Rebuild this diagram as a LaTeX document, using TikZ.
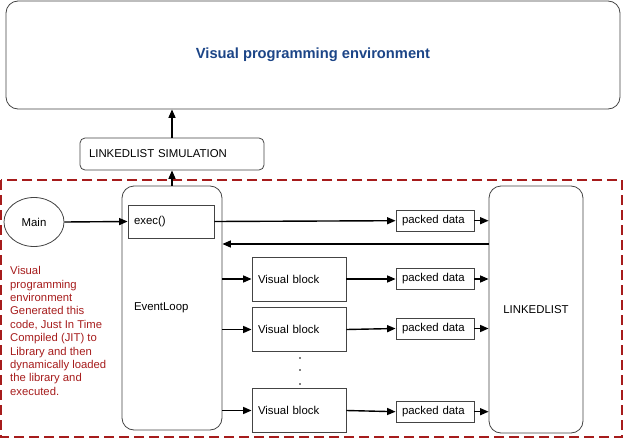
\documentclass[tikz,border=0pt]{standalone}
\usepackage{fontspec}
\setmainfont{Liberation Sans}
\usepackage{xcolor}
\usetikzlibrary{positioning,arrows.meta,shapes.geometric}
\definecolor{titleblue}{HTML}{1C4587}
\definecolor{darkred}{HTML}{A61C1C}
\definecolor{boxgray}{HTML}{444444}

\begin{document}
\begin{tikzpicture}[x=1pt, y=-1pt, >={Triangle[length=8.5pt,width=7pt]},
    box/.style={draw=boxgray, line width=0.8pt, align=left, font=\fontsize{11.4}{13}\selectfont},
    rbox/.style={box, rounded corners=12pt},
    dbox/.style={box, minimum width=78pt, minimum height=21pt, text width=66pt},
    vblock/.style={box, minimum width=94pt, minimum height=44pt, text width=82pt},
    arr/.style={->, line width=1.4pt}]
    \useasboundingbox (0,0) rectangle (624,439);

    % Top level environment
    \node[rbox, minimum width=614pt, minimum height=108pt, align=center,
          font=\fontsize{14.7}{17}\selectfont\bfseries, text=titleblue] (vpe) at (313,55) {Visual programming environment};
    \node[box, rounded corners=5pt, minimum width=184pt, minimum height=32pt, text width=166pt] (sim) at (172,154) {LINKEDLIST SIMULATION};

    % Dashed boundary
    \draw[darkred, line width=1.5pt, dash pattern=on 10pt off 5pt] (1,180) rectangle (622,437);

    % Main, event loop and linked list
    \node[box, ellipse, minimum width=60pt, minimum height=49pt, align=center] (main) at (34,222) {Main};
    \node[rbox, minimum width=100pt, minimum height=244pt, text width=76pt] (loop) at (172,308) {EventLoop};
    \node[box, minimum width=86pt, minimum height=33pt, text width=74pt, fill=white] (exec) at (171,221.5) {exec()};
    \node[rbox, minimum width=94pt, minimum height=247pt, align=center] (list) at (536,309.5) {LINKEDLIST};

    % Visual blocks and packed data
    \node[vblock] (vb1) at (299,279) {Visual block};
    \node[vblock] (vb2) at (299,329.5) {Visual block};
    \node[vblock] (vb3) at (299,410.5) {Visual block};
    \node[dbox] (pd1) at (435,220.7) {packed data};
    \node[dbox] (pd2) at (435,279) {packed data};
    \node[dbox] (pd3) at (435,328.5) {packed data};
    \node[dbox] (pd4) at (435,411.7) {packed data};
    \foreach \y in {358,370,384}
        \fill (300,\y) circle (0.8pt);

    % Connections
    \draw[arr] (loop.north) -- (sim.south);
    \draw[arr] (sim.north) -- (vpe.south -| sim.north);
    \draw[arr] (main.east) -- (exec.west);
    \draw[arr] (exec.east) -- (pd1.west);
    \draw[arr] (list.west |- 0,244) -- (loop.east |- 0,244);
    \foreach \i in {1,2,3}
        \draw[arr] (loop.east |- vb\i.west) -- (vb\i.west);
    \draw[arr] (vb1.east) -- (pd2.west);
    \draw[arr] (vb2.east) -- (pd3.west);
    \draw[arr] (vb3.east) -- (pd4.west);
    \foreach \i in {1,...,4}
        \draw[arr] (pd\i.east) -- (list.west |- pd\i.east);

    % Note
    \node[anchor=west, align=left, text=darkred, inner sep=0pt, font=\fontsize{11.3}{13.4}\selectfont] (note) at (10,331)
        {Visual\\programming\\environment\\Generated this\\code, Just In Time\\Compiled (JIT) to\\Library and then\\dynamically loaded\\the library and\\executed.};
\end{tikzpicture}
\end{document}
